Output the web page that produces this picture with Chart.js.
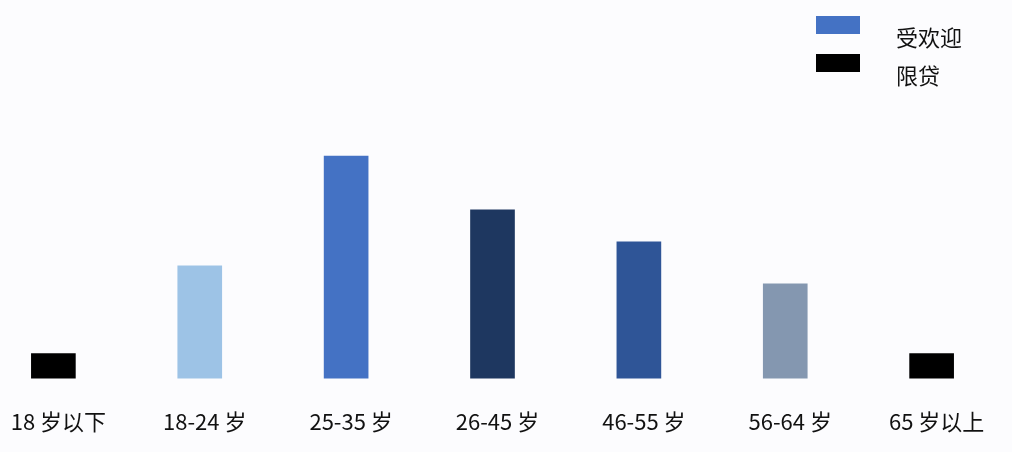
<!DOCTYPE html>
<html>
<head>
<meta charset="utf-8">
<script src="https://cdn.jsdelivr.net/npm/chart.js@4"></script>
<style>
    html, body { margin: 0; padding: 0; background: #fcfcfe; overflow: hidden; }
    body { width: 1012px; height: 452px; position: relative; font-family: "Noto Sans CJK SC", sans-serif; }
    #ageChart { position: absolute; left: -24px; top: 0; width: 1033px; height: 452px; }
    .legend { position: absolute; left: 816px; top: 16px; font-size: 22px; color: #111; }
    .legend div { position: relative; height: 38px; }
    .legend span.box { position: absolute; left: 0; top: 0; width: 44px; height: 18px; }
    .legend span.txt { position: absolute; left: 80px; top: 5px; white-space: nowrap; line-height: 30px; }
</style>
</head>
<body>
<canvas id="ageChart" width="1033" height="452"></canvas>
<div class="legend">
    <div><span class="box" style="background:#4472c4"></span><span class="txt">受欢迎</span></div>
    <div><span class="box" style="background:#000000"></span><span class="txt">限贷</span></div>
</div>
<script>
// data
const ageGroups = ['18 岁以下', '18-24 岁', '25-35 岁', '26-45 岁', '46-55 岁', '56-64 岁', '65 岁以上'];
const barValues = [25, 113, 223, 169, 137, 95, 25];
const barColors = ['#000000', '#9dc3e6', '#4472c4', '#1e3760', '#2f5597', '#8497b0', '#000000'];

const ctx = document.getElementById('ageChart').getContext('2d');
new Chart(ctx, {
    type: 'bar',
    data: {
        labels: ageGroups,
        datasets: [{
            data: barValues,
            backgroundColor: barColors,
            borderWidth: 0,
            barThickness: 44
        }]
    },
    options: {
        responsive: false,
        animation: false,
        layout: { padding: { top: 129, bottom: -13, left: 0, right: 0 } },
        plugins: { legend: { display: false }, tooltip: { enabled: false } },
        scales: {
            x: {
                grid: { display: false, drawTicks: false },
                border: { display: false },
                ticks: {
                    color: '#111',
                    padding: 30,
                    labelOffset: 5,
                    maxRotation: 0,
                    autoSkip: false,
                    font: { family: '"Noto Sans CJK SC", sans-serif', size: 22 }
                }
            },
            y: {
                display: false,
                min: 0,
                max: 250
            }
        }
    }
});
</script>
</body>
</html>
